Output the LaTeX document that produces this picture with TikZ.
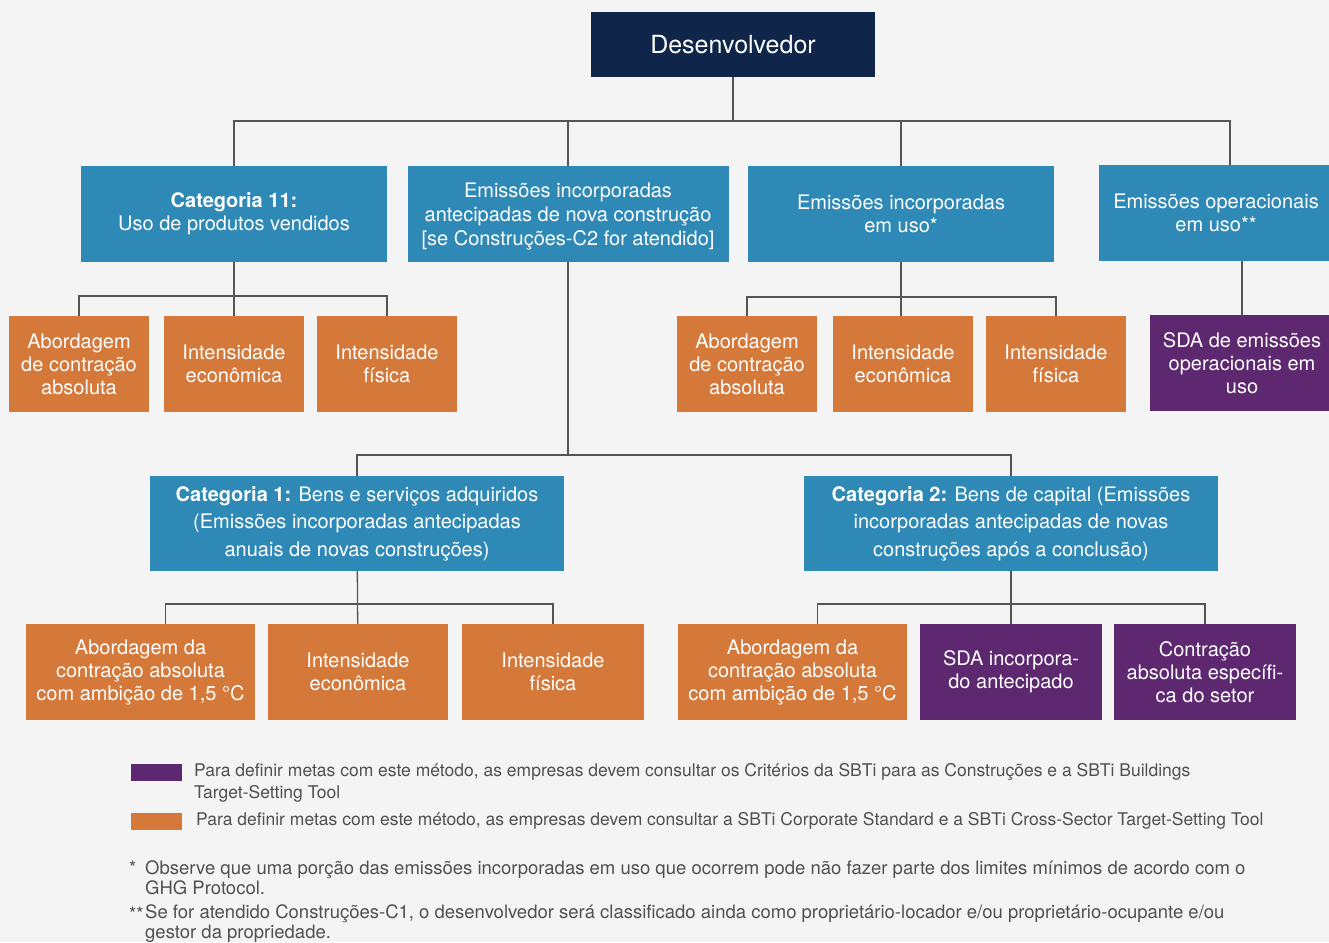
\documentclass[tikz,border=0pt]{standalone}
\usepackage{fontspec}
\setmainfont{TeX Gyre Heros}
\usetikzlibrary{calc, positioning}
\definecolor{pagebg}{HTML}{F3F4F3}
\definecolor{navy}{HTML}{0F2549}
\definecolor{cblue}{HTML}{2E89B6}
\definecolor{corange}{HTML}{D5793B}
\definecolor{cpurple}{HTML}{5D2870}
\definecolor{wire}{HTML}{555555}
\definecolor{notegray}{HTML}{505050}
\tikzset{
  box/.style={inner sep=0pt, align=center, text=white, font=\fontsize{20}{23}\selectfont},
  topbox/.style={box, fill=navy, minimum width=284, minimum height=65, font=\fontsize{25}{30}\selectfont},
  catbox/.style={box, fill=cblue, minimum height=96},
  methbox/.style={box, fill=corange, minimum width=140, minimum height=96},
  sdabox/.style={box, fill=cpurple, minimum height=96},
  link/.style={draw=wire, line width=1.3pt},
  keybox/.style={inner sep=0pt, minimum width=51, minimum height=17},
  legtext/.style={inner sep=0pt, align=left, text=notegray, font=\fontsize{17.5}{22}\selectfont},
  notetext/.style={inner sep=0pt, align=left, text=notegray, font=\fontsize{18.5}{20}\selectfont}
}

\begin{document}
\begin{tikzpicture}[x=1pt, y=-1pt]
  \path[use as bounding box, fill=pagebg] (0,0) rectangle (1329,942);

  % top and first level
  \node[topbox] (dev) at (733,44.5) {Desenvolvedor};
  \node[catbox, minimum width=306] (c11) at (234,214) {\textbf{Categoria 11:}\\Uso de produtos vendidos};
  \node[catbox, minimum width=321, font=\fontsize{20}{24}\selectfont, text depth=0pt] (emi) at (568,214) {Emissões incorporadas\\antecipadas de nova construção\\{[}se Construções-C2 for atendido{]}};
  \node[catbox, minimum width=306] (uso) at (901,214) {Emissões incorporadas\\em uso*};
  \node[catbox, minimum width=234] (op) at (1216,213) {Emissões operacionais\\em uso**};

  % methods under Categoria 11
  \node[methbox] (a1) at (79,364) {Abordagem\\de contração\\absoluta};
  \node[methbox] (a2) at (234,364) {Intensidade\\econômica};
  \node[methbox] (a3) at (387,364) {Intensidade\\física};

  % methods under embodied in-use
  \node[methbox] (b1) at (747,364) {Abordagem\\de contração\\absoluta};
  \node[methbox] (b2) at (903,364) {Intensidade\\econômica};
  \node[methbox] (b3) at (1056,364) {Intensidade\\física};

  \node[sdabox, minimum width=184] (sda) at (1242,363) {SDA de emissões\\operacionais em\\uso};

  % second level
  \node[catbox, minimum width=414, minimum height=95, font=\fontsize{20}{27.5}\selectfont] (cat1) at (357,523.5) {\textbf{Categoria 1:} Bens e serviços adquiridos\\(Emissões incorporadas antecipadas\\anuais de novas construções)};
  \node[catbox, minimum width=414, minimum height=95, font=\fontsize{20}{27.5}\selectfont] (cat2) at (1011,523.5) {\textbf{Categoria 2:} Bens de capital (Emissões\\incorporadas antecipadas de novas\\construções após a conclusão)};

  \node[methbox, minimum width=229] (d1) at (140.5,672) {Abordagem da\\contração absoluta\\com ambição de 1,5 °C};
  \node[methbox, minimum width=180] (d2) at (358,672) {Intensidade\\econômica};
  \node[methbox, minimum width=182] (d3) at (553,672) {Intensidade\\física};

  \node[methbox, minimum width=229] (e1) at (792.5,672) {Abordagem da\\contração absoluta\\com ambição de 1,5 °C};
  \node[sdabox, minimum width=182] (e2) at (1011,672) {SDA incorpora-\\do antecipado};
  \node[sdabox, minimum width=182] (e3) at (1205,672) {Contração\\absoluta específi-\\ca do setor};

  % connectors
  \coordinate (j0) at (733,121);
  \coordinate (j1) at (234,296);
  \coordinate (j2) at (903,297);
  \coordinate (j3) at (571,455);
  \coordinate (j4) at (358,604);
  \coordinate (j5) at (1011,604);
  \draw[link] (dev) -- (j0);
  \draw[link] (c11.north) |- (j0) -| ([xshift=14]op.north);
  \draw[link] (emi.north) -- (emi.north |- j0);
  \draw[link] (uso.north) -- (uso.north |- j0);
  \draw[link] (c11) -- (a2);
  \draw[link] (a1.north) |- (j1) -| (a3.north);
  \draw[link] (uso.south) -- (b2.north -| uso.south);
  \draw[link] (b1.north) |- (j2) -| (b3.north);
  \draw[link] (sda.north) -- (sda.north |- op.south);
  \draw[link] (emi.south) -- (emi.south |- j3);
  \draw[link] (cat1.north) |- (j3) -| (cat2.north);
  \draw[link] (cat1) -- (d2);
  \draw[link] ([xshift=25]d1.north) |- (j4) -| (d3.north);
  \draw[link] (cat2) -- (e2);
  \draw[link] ([xshift=25]e1.north) |- (j5) -| (e3.north);

  % legend
  \node[keybox, fill=cpurple] (keyp) at (156.5,772.5) {};
  \node[keybox, fill=corange] (keyo) at (156.5,821.5) {};
  \node[legtext, anchor=west] (legp) at (194,783) {Para definir metas com este método, as empresas devem consultar os Critérios da SBTi para as Construções e a SBTi Buildings\\Target-Setting Tool};
  \node[legtext, anchor=west] (lego) at (196,821) {Para definir metas com este método, as empresas devem consultar a SBTi Corporate Standard e a SBTi Cross-Sector Target-Setting Tool};

  % notes
  \node[notetext, anchor=west] (star1) at (129,868) {*};
  \node[notetext, anchor=west] (note1) at (145,878) {Observe que uma porção das emissões incorporadas em uso que ocorrem pode não fazer parte dos limites mínimos de acordo com o\\GHG Protocol.};
  \node[notetext, anchor=west] (star2) at (129,914) {**};
  \node[notetext, anchor=west] (note2) at (145,924) {Se for atendido Construções-C1, o desenvolvedor será classificado ainda como proprietário-locador e/ou proprietário-ocupante e/ou\\gestor da propriedade.};
\end{tikzpicture}
\end{document}
